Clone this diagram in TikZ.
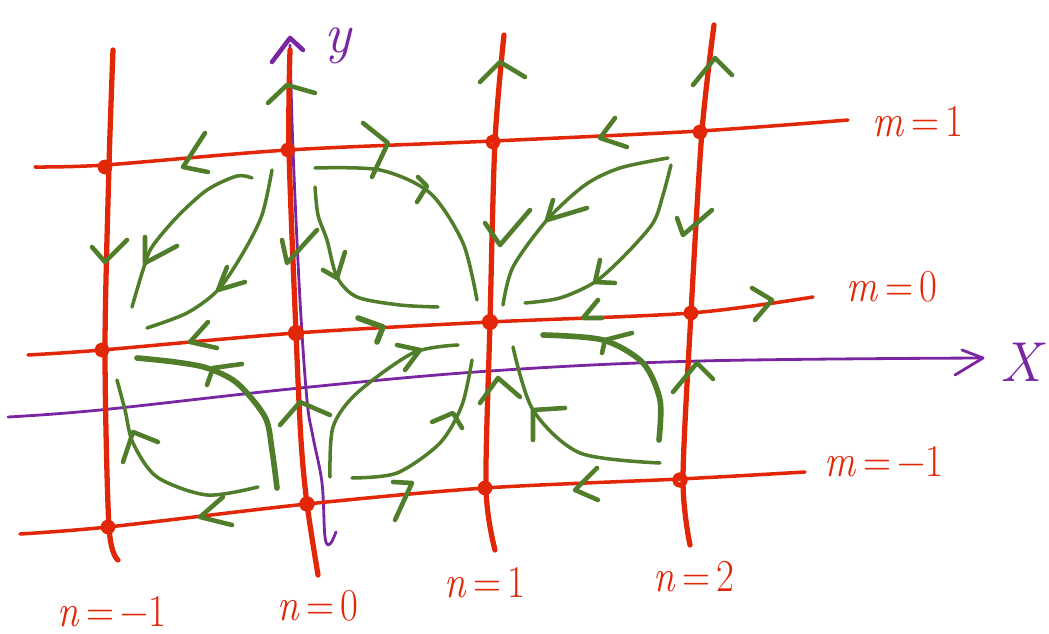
\documentclass[tikz,border=0pt]{standalone}
\usepackage{fontspec}
\definecolor{penred}{RGB}{226,38,8}
\definecolor{pengreen}{RGB}{80,125,42}
\definecolor{penpurple}{RGB}{122,38,162}
\newcommand{\hand}[2]{\scalebox{0.85}[1]{\textit{#1}\,=\,#2}}

\begin{document}
\begin{tikzpicture}[x=0.02cm, y=-0.02cm, line join=round, line cap=round, >=stealth,
	redline/.style={penred, line width=2pt},
	redpost/.style={penred, line width=3pt},
	axis/.style={penpurple, line width=1.6pt},
	flow/.style={pengreen, line width=2pt},
	thickflow/.style={pengreen, line width=3.2pt},
	chev/.style={pengreen, line width=2.6pt},
	dot/.style={penred},
	ring/.style={penred, line width=3pt},
	lab/.style={penred, inner sep=0pt, font=\fontsize{26}{30}\selectfont}]
	\useasboundingbox (0,0) rectangle (1049,634);
	
	% Purple axes
	\draw[axis] plot[smooth, tension=0.6] coordinates {(8,417) (100,410) (300,388) (490,371) (700,361) (983,358)};
	\draw[axis] (955,375)--(983,358)--(962,350);
	\draw[axis] plot[smooth, tension=0.6] coordinates {(290,45) (293,150) (300,300) (307,400) (313,437) (322,483) (325,537) (330,544) (336,532)};
	\draw[axis, line width=2.6pt] (272,62)--(290,38)--(303,50);
	\node[penpurple, inner sep=0pt, font=\fontsize{32}{36}\selectfont\itshape] (labx) at (1021,362) {X};
	\node[penpurple, inner sep=0pt, font=\fontsize{32}{36}\selectfont\itshape] (laby) at (338,46) {y};
	
	% Red lines m = const
	\draw[redline] plot[smooth, tension=0.5] coordinates {(35,167) (105,165) (288,150) (493,141) (700,131) (848,120)};
	\draw[redline] plot[smooth, tension=0.5] coordinates {(28,355) (102,350) (296,333) (490,322) (691,313) (813,297)};
	\draw[redline] plot[smooth, tension=0.5] coordinates {(20,534) (108,527) (307,504) (485,488) (680,479) (805,472)};
	
	% Red lines n = const
	\draw[redpost] plot[smooth, tension=0.5] coordinates {(113,50) (109,166) (105,350) (109,527) (118,560)};
	\draw[redpost] plot[smooth, tension=0.5] coordinates {(290,50) (289,150) (296,333) (301,440) (307,504) (318,575)};
	\draw[redpost] plot[smooth, tension=0.5] coordinates {(504,35) (495,141) (490,322) (486,488) (495,550)};
	\draw[redpost] plot[smooth, tension=0.5] coordinates {(714,25) (702,131) (691,313) (683,479) (690,545)};
	
	% Lattice points
	\fill[dot] (105,167) circle (4.2pt);
	\draw[ring] (288,150) circle (2.8pt);
	\draw[ring] (493,142) circle (2.8pt);
	\draw[ring] (700,132) circle (2.8pt);
	\draw[ring] (102,350) circle (2.8pt);
	\fill[dot] (296,333) circle (4.6pt);
	\fill[dot] (490,322) circle (4.6pt);
	\fill[dot] (691,313) circle (4.2pt);
	\fill[dot] (108,527) circle (4.2pt);
	\draw[ring] (307,504) circle (3pt);
	\fill[dot] (485,488) circle (4.2pt);
	\draw[ring] (680,480) circle (3pt);
	
	% Labels
	\node[lab] (m1) at (918,122) {\hand{m}{1}};
	\node[lab] (m0) at (892,287) {\hand{m}{0}};
	\node[lab] (mm1) at (884,462) {\hand{m}{−1}};
	\node[lab] (nm1) at (112,612) {\hand{n}{−1}};
	\node[lab] (n0) at (318,606) {\hand{n}{0}};
	\node[lab] (n1) at (485,583) {\hand{n}{1}};
	\node[lab] (n2) at (694,577) {\hand{n}{2}};
	
	% Flow lines, top row of cells
	\draw[flow] plot[smooth] coordinates {(252,178) (237,176) (207,190) (177,217) (152,247) (143,270) (132,307)};
	\draw[chev] (145,237)--(145,263)--(177,246);
	\draw[flow] plot[smooth] coordinates {(272,170) (262,215) (243,253) (218,290) (187,313) (147,328)};
	\draw[chev] (227,267)--(218,290)--(245,282);
	\draw[flow] plot[smooth] coordinates {(315,168) (380,170) (430,193) (463,243) (477,300)};
	\draw[chev] (418,177)--(427,186)--(417,202);
	\draw[flow] plot[smooth] coordinates {(315,187) (318,215) (327,240) (337,277) (357,297) (400,305) (438,307)};
	\draw[chev] (323,270)--(337,278)--(345,252);
	\draw[flow] plot[smooth] coordinates {(668,158) (620,168) (585,185) (547,220) (513,267) (503,305)};
	\draw[chev] (553,200)--(547,220)--(587,208);
	\draw[flow] plot[smooth] coordinates {(671,165) (663,195) (653,223) (625,255) (595,282) (560,298) (525,303)};
	\draw[chev] (600,260)--(595,282)--(615,283);
	
	% Flow lines, bottom row of cells
	\draw[thickflow] plot[smooth] coordinates {(137,358) (175,362) (207,368) (237,383) (265,417) (272,450) (277,488)};
	\draw[chev] (242,364)--(213,368)--(207,385);
	\draw[flow] plot[smooth] coordinates {(258,487) (207,495) (157,477) (133,443) (125,410) (117,380)};
	\draw[chev] (158,442)--(133,432)--(123,462);
	\draw[flow] plot[smooth] coordinates {(330,477) (333,427) (357,393) (413,353) (458,345)};
	\draw[chev] (397,345)--(420,350)--(405,370);
	\draw[flow] plot[smooth] coordinates {(352,478) (397,473) (440,443) (462,405) (472,360)};
	\draw[chev] (432,422)--(453,413)--(462,428);
	\draw[thickflow] plot[smooth] coordinates {(543,335) (603,340) (643,363) (660,400) (659,440)};
	\draw[chev] (632,333)--(605,340)--(602,353);
	\draw[flow] plot[smooth] coordinates {(660,463) (580,453) (533,410) (513,347)};
	\draw[chev] (565,408)--(533,410)--(533,440);
	
	% Arrow marks on the lines
	\draw[chev] (205,133)--(183,167)--(208,172);
	\draw[chev] (363,123)--(388,143)--(372,177);
	\draw[chev] (615,118)--(600,138)--(627,147);
	\draw[chev] (92,247)--(105,262)--(127,240);
	\draw[chev] (282,240)--(287,263)--(317,230);
	\draw[chev] (485,223)--(500,245)--(530,210);
	\draw[chev] (677,218)--(683,235)--(712,210);
	\draw[chev] (208,322)--(190,342)--(217,348);
	\draw[chev, line width=3.2pt] (358,318)--(383,327)--(377,342);
	\draw[chev] (598,300)--(583,318)--(602,318);
	\draw[chev] (752,288)--(772,300)--(755,320);
	\draw[chev] (280,425)--(300,402)--(330,415);
	\draw[chev] (480,403)--(498,378)--(520,397);
	\draw[chev] (673,392)--(697,363)--(713,379);
	\draw[chev] (223,497)--(200,517)--(232,525);
	\draw[chev] (393,482)--(412,483)--(395,520);
	\draw[chev] (597,468)--(575,490)--(598,500);
	\draw[chev] (268,103)--(287,85)--(315,93);
	\draw[chev] (480,82)--(500,62)--(525,77);
	\draw[chev] (693,85)--(715,58)--(732,75);
\end{tikzpicture}
\end{document}
